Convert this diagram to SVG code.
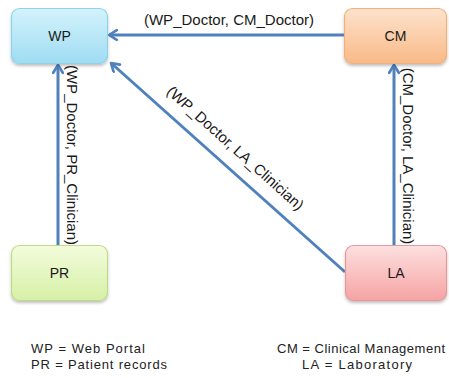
<svg xmlns="http://www.w3.org/2000/svg" width="449" height="378" viewBox="0 0 449 378">
<style>
.box{stroke-width:1.2}
.lbl{font-family:"Liberation Sans",Arial,sans-serif;font-size:14px;fill:#1a1a1a}
.edge{stroke:#4f81bd;stroke-width:3;fill:none}
.leg{font-family:"Liberation Sans",Arial,sans-serif;font-size:13px;fill:#222}
</style>
<defs>
<linearGradient id="gWP" x1="0" y1="0" x2="0" y2="1"><stop offset="0" stop-color="#d3f3fc"/><stop offset="1" stop-color="#9fdcf2"/></linearGradient>
<linearGradient id="gCM" x1="0" y1="0" x2="0" y2="1"><stop offset="0" stop-color="#fde3cc"/><stop offset="1" stop-color="#f9b988"/></linearGradient>
<linearGradient id="gPR" x1="0" y1="0" x2="0" y2="1"><stop offset="0" stop-color="#f3fcdc"/><stop offset="1" stop-color="#d6f0a6"/></linearGradient>
<linearGradient id="gLA" x1="0" y1="0" x2="0" y2="1"><stop offset="0" stop-color="#fde0e0"/><stop offset="1" stop-color="#f6a3a3"/></linearGradient>
<filter id="sh" x="-10%" y="-10%" width="130%" height="140%"><feDropShadow dx="0" dy="2" stdDeviation="1.5" flood-color="#000" flood-opacity="0.25"/></filter>
<marker id="arr" viewBox="0 0 10 10" refX="8.5" refY="5" markerWidth="4" markerHeight="4" orient="auto" markerUnits="strokeWidth">
<path d="M2,1 L8.5,5 L2,9" fill="none" stroke="#4f81bd" stroke-width="2.2" stroke-linecap="round" stroke-linejoin="round"/>
</marker>
</defs>
<g id="connectors">
<line class="edge" x1="344" y1="35" x2="109" y2="35" marker-end="url(#arr)"/>
<line class="edge" x1="58" y1="245" x2="58" y2="65" marker-end="url(#arr)"/>
<line class="edge" x1="394" y1="245" x2="394" y2="65" marker-end="url(#arr)"/>
<line class="edge" x1="345" y1="272" x2="111" y2="63" marker-end="url(#arr)"/>
<text class="lbl" x="229" y="25" text-anchor="middle" style="font-size:15px">(WP_Doctor, CM_Doctor)</text>
<text class="lbl" transform="translate(67,155) rotate(90)" text-anchor="middle" style="font-size:15px">(WP_Doctor, PR_Clinician)</text>
<text class="lbl" transform="translate(403,156) rotate(90)" text-anchor="middle" style="font-size:15px">(CM_Doctor, LA_Clinician)</text>
<text class="lbl" transform="translate(232,152) rotate(41.8)" text-anchor="middle" style="font-size:15px">(WP_Doctor, LA_Clinician)</text>
</g>
<g id="WP"><rect class="box" x="11.5" y="8.5" width="96" height="55" rx="8" fill="url(#gWP)" stroke="#8fd3ea" filter="url(#sh)"/><text class="lbl" x="59.5" y="41" text-anchor="middle">WP</text></g>
<g id="CM"><rect class="box" x="344.5" y="8.5" width="102" height="55" rx="8" fill="url(#gCM)" stroke="#f0b27c" filter="url(#sh)"/><text class="lbl" x="395.5" y="41" text-anchor="middle">CM</text></g>
<g id="PR"><rect class="box" x="11.5" y="245.5" width="96" height="55" rx="8" fill="url(#gPR)" stroke="#bcdc8a" filter="url(#sh)"/><text class="lbl" x="59.5" y="278" text-anchor="middle">PR</text></g>
<g id="LA"><rect class="box" x="345.5" y="245.5" width="101" height="55" rx="8" fill="url(#gLA)" stroke="#e49a9a" filter="url(#sh)"/><text class="lbl" x="396" y="278" text-anchor="middle">LA</text></g>
<g id="legend">
<text class="leg" x="31" y="353" textLength="114" lengthAdjust="spacing">WP = Web Portal</text>
<text class="leg" x="31" y="368.5" textLength="136" lengthAdjust="spacing">PR = Patient records</text>
<text class="leg" x="277" y="353" textLength="168" lengthAdjust="spacing">CM = Clinical Management</text>
<text class="leg" x="302" y="368.5" textLength="110" lengthAdjust="spacing">LA = Laboratory</text>
</g>
</svg>
